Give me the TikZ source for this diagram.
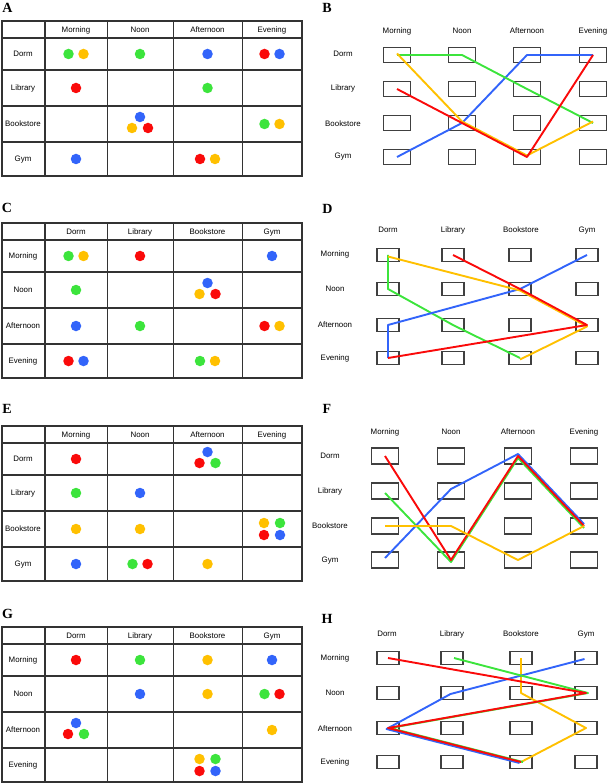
\documentclass[tikz,border=0pt]{standalone}
\usepackage{fontspec}
\setmainfont{Liberation Serif}
\setsansfont{Liberation Sans}
\usepackage{tikz}
\usetikzlibrary{positioning}
\definecolor{grn}{RGB}{60,228,60}
\definecolor{ylw}{RGB}{255,192,0}
\definecolor{rd}{RGB}{250,10,10}
\definecolor{blu}{RGB}{50,100,250}

\begin{document}
\begin{tikzpicture}[
  x=1pt, y=-1pt,
  lbl/.style={font=\sffamily\fontsize{7.9}{9}\selectfont, inner sep=0pt, text height=5.7pt, text depth=1.6pt},
  panel/.style={font=\bfseries\fontsize{14}{16}\selectfont, inner sep=0pt},
  tablerule/.style={draw=black!80, line width=1.4pt},
  wide/.style={draw=black!75, line width=1.2pt, minimum width=27pt, minimum height=15pt, inner sep=0pt},
  narrow/.style={draw=black!75, line width=1.2pt, minimum width=22pt, minimum height=12.5pt, inner sep=0pt},
  chip/.style={circle, fill=#1, minimum size=10.5pt, inner sep=0pt},
  trk/.style={draw=#1, line width=1.9pt, line join=round}
]
  \useasboundingbox (0,0) rectangle (609,783);

  % Panel letters
  \node[panel] (tA) at (7.5,8) {A};
  \node[panel] (tB) at (327,8) {B};
  \node[panel] (tC) at (7,208) {C};
  \node[panel] (tD) at (327.5,208.5) {D};
  \node[panel] (tE) at (7,408.5) {E};
  \node[panel] (tF) at (327,408.5) {F};
  \node[panel] (tG) at (7.5,614) {G};
  \node[panel] (tH) at (327,619) {H};

  % Tables
  \foreach \top in {21,223,426,627} {
    \draw[tablerule] (2,\top) rectangle (302,\top+155);
    \foreach \gx in {45,107.5,173.5,242.5}
      \draw[tablerule] (\gx,\top) -- (\gx,\top+155);
    \foreach \gy in {17,49,85,121}
      \draw[tablerule] (2,\top+\gy) -- (302,\top+\gy);
  }
  \foreach \top in {21,426} {
    \foreach \txt/\cx in {Morning/76,Noon/140,Afternoon/207.5,Evening/272}
      \node[lbl] (h\top\txt) at (\cx,\top+9.5) {\txt};
    \foreach \txt/\dy in {Dorm/33,Library/67,Bookstore/103,Gym/138}
      \node[lbl] (r\top\txt) at (23,\top+\dy) {\txt};
  }
  \foreach \top in {223,627} {
    \foreach \txt/\cx in {Dorm/76,Library/140,Bookstore/207.5,Gym/272}
      \node[lbl] (h\top\txt) at (\cx,\top+9.5) {\txt};
    \foreach \txt/\dy in {Morning/33,Noon/67,Afternoon/103,Evening/138}
      \node[lbl] (r\top\txt) at (23,\top+\dy) {\txt};
  }

  % Table A
  \foreach \c/\x/\y [count=\k] in {grn/68.5/54, ylw/83.5/54, grn/140/54, blu/207.5/54,
      rd/264.5/54, blu/279.5/54, rd/76/88, grn/207.5/88, blu/140/117, ylw/132/128,
      rd/148/128, grn/264.5/124, ylw/279.5/124, blu/76/159, rd/200/159, ylw/215/159}
    \node[chip=\c] (a\k) at (\x,\y) {};

  % Table C
  \foreach \c/\x/\y [count=\k] in {grn/68.5/256, ylw/83.5/256, rd/140/256, blu/272/256,
      grn/76/290, blu/207.5/283, ylw/199.5/294, rd/215.5/294, blu/76/326, grn/140/326,
      rd/264.5/326, ylw/279.5/326, rd/68.5/361, blu/83.5/361, grn/200/361, ylw/215/361}
    \node[chip=\c] (c\k) at (\x,\y) {};

  % Table E
  \foreach \c/\x/\y [count=\k] in {rd/76/459, blu/207.5/452, rd/199.5/463, grn/215.5/463,
      grn/76/493, blu/140/493, ylw/76/529, ylw/140/529, ylw/264/523, grn/280/523,
      rd/264/535, blu/280/535, blu/76/564, grn/132.5/564, rd/147.5/564, ylw/207.5/564}
    \node[chip=\c] (e\k) at (\x,\y) {};

  % Table G
  \foreach \c/\x/\y [count=\k] in {rd/76/660, grn/140/660, ylw/207.5/660, blu/272/660,
      blu/140/694, ylw/207.5/694, grn/264.5/694, rd/279.5/694, blu/76/723, rd/68/734,
      grn/84/734, ylw/272/730, ylw/199.5/759, grn/215.5/759, rd/199.5/771, blu/215.5/771}
    \node[chip=\c] (g\k) at (\x,\y) {};

  % Panel B
  \foreach \txt/\cx in {Morning/397,Noon/462,Afternoon/527,Evening/593}
    \node[lbl] (bh\txt) at (\cx,31) {\txt};
  \foreach \txt/\ry in {Dorm/54,Library/88,Bookstore/124,Gym/156}
    \node[lbl] (br\txt) at (343,\ry) {\txt};
  \foreach \t/\cx in {M/397,N/462,A/527,E/593}
    \foreach \p/\ry in {D/55,L/89,B/123,G/157}
      \node[wide] (b\t\p) at (\cx,\ry) {};
  \draw[trk=blu] (bMG.center) -- (bNB.center) -- (bAD.center) -- (bED.center);
  \draw[trk=grn] (bMD.center) -- (bND.center) -- (bAL.center) -- (bEB.center);
  \draw[trk=ylw, transform canvas={yshift=1.5pt}] (bMD.center) -- (bNB.center) -- (bAG.center) -- (bEB.center);
  \draw[trk=rd] (bML.center) -- (bNB.center) -- (bAG.center) -- (bED.center);

  % Panel D
  \foreach \txt/\cx in {Dorm/388,Library/453,Bookstore/521,Gym/587}
    \node[lbl] (dh\txt) at (\cx,230) {\txt};
  \foreach \txt/\ry in {Morning/254,Noon/289,Afternoon/325,Evening/358}
    \node[lbl] (dr\txt) at (335,\ry) {\txt};
  \foreach \p/\cx in {D/388,L/453,B/520,G/587}
    \foreach \t/\ry in {M/255,N/289,A/325,E/358}
      \node[narrow, minimum height=13pt] (d\t\p) at (\cx,\ry) {};
  \draw[trk=grn] (dMD.center) -- (dND.center) -- (dAL.center) -- (dEB.center);
  \draw[trk=blu] (dMG.center) -- (dNB.center) -- (dAD.center) -- (dED.center);
  \draw[trk=ylw, transform canvas={yshift=-1.5pt}] (dMD.center) -- (dNB.center) -- (dAG.center) -- (dEB.center);
  \draw[trk=rd] (dML.center) -- (dNB.center) -- (dAG.center) -- (dED.center);

  % Panel F
  \foreach \txt/\cx in {Morning/385,Noon/451,Afternoon/518,Evening/584}
    \node[lbl] (fh\txt) at (\cx,432) {\txt};
  \foreach \txt/\ry in {Dorm/456,Library/491,Bookstore/526,Gym/560}
    \node[lbl] (fr\txt) at (330,\ry) {\txt};
  \foreach \t/\cx in {M/385,N/451,A/518,E/584}
    \foreach \p/\ry in {D/456,L/491,B/526,G/560}
      \node[wide, minimum height=16pt] (f\t\p) at (\cx,\ry) {};
  \draw[trk=grn, transform canvas={yshift=-2pt}] (fML.center) -- (fNG.center) -- (fAD.center) -- (fEB.center);
  \draw[trk=blu, transform canvas={yshift=2pt}] (fMG.center) -- (fNL.center) -- (fAD.center) -- (fEB.center);
  \draw[trk=rd] (fMD.center) -- (fNG.center) -- (fAD.center) -- (fEB.center);
  \draw[trk=ylw] (fMB.center) -- (fNB.center) -- (fAG.center) -- (fEB.center);

  % Panel H
  \foreach \txt/\cx in {Dorm/387,Library/452,Bookstore/521,Gym/586}
    \node[lbl] (hh\txt) at (\cx,634) {\txt};
  \foreach \txt/\ry in {Morning/658,Noon/693,Afternoon/729,Evening/762}
    \node[lbl] (hr\txt) at (335,\ry) {\txt};
  \foreach \p/\cx in {D/388,L/452,B/521,G/586}
    \foreach \t/\ry in {M/658,N/693,A/728,E/762}
      \node[narrow] (h\t\p) at (\cx,\ry) {};
  \draw[trk=ylw] (hMB.center) -- (hNB.center) -- (hAG.center) -- (hEB.center);
  \draw[trk=blu, transform canvas={xshift=-1.5pt, yshift=-1pt}] (hMG.center) -- (hNL.center) -- (hAD.center) -- (hEB.center);
  \draw[trk=grn, transform canvas={xshift=2pt}] (hML.center) -- (hNG.center) -- (hAD.center) -- (hEB.center);
  \draw[trk=rd] (hMD.center) -- (hNG.center) -- (hAD.center) -- (hEB.center);
\end{tikzpicture}
\end{document}
